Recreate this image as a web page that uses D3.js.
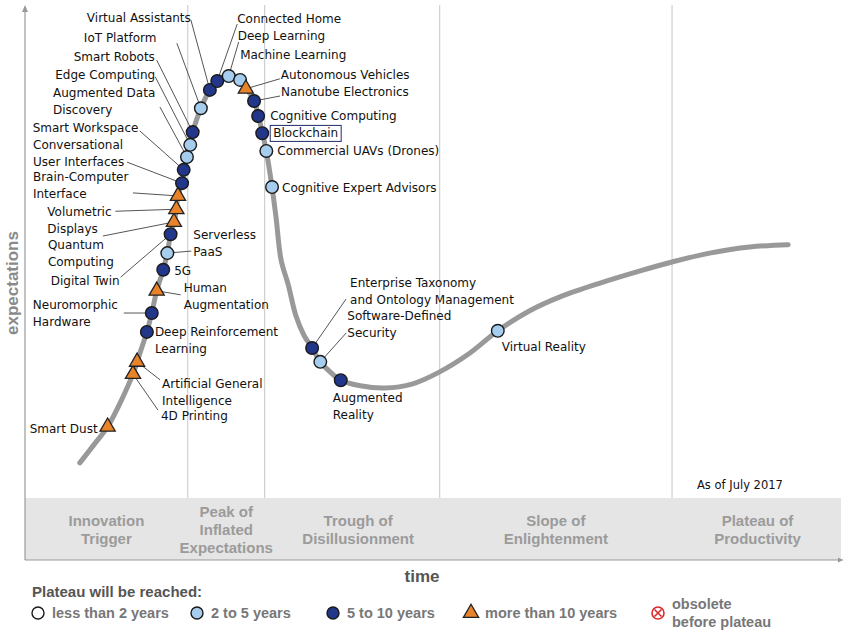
<!DOCTYPE html>
<html><head><meta charset="utf-8">
<script src="https://cdn.jsdelivr.net/npm/d3@7/dist/d3.min.js"></script>
<style>
body{margin:0;background:#fff;}
svg{display:block;}
</style></head>
<body><svg id="chart" width="844" height="633"></svg>
<script>
// ---------- DATA ----------
const curveX = [6.7,8.6,10.1,13.2,14.1,14.9,15.5,16.1,16.9,17.4,17.8,18.3,18.7,19.2,19.8,20.5,21.5,22.6,23.5,24.9,26.3,27.0,28.0,28.5,29.0,29.5,30.2,30.7,31.3,32.2,33.1,34.1,35.1,36.1,37.3,38.6,41.0,44.0,47.3,50.7,54.4,57.8,61.7,65.4,70.3,75.2,79.1,83.7,88.6,93.3];
const curveY = [17.5,21.1,24.0,33.5,37.5,41.1,44.5,48.5,52.3,55.3,58.7,61.3,65.6,68.1,72.8,77.1,81.4,84.7,86.5,87.4,86.7,85.0,82.9,80.2,77.1,73.7,67.2,61.6,54.1,49.5,44.1,40.5,38.2,35.7,33.9,32.4,31.4,31.0,31.7,33.9,37.3,41.3,44.9,47.4,49.9,52.1,53.7,55.3,56.4,56.8];

const techNames = [
 ["Smart Dust"],["4D Printing"],["Artificial General","Intelligence"],["Deep Reinforcement","Learning"],
 ["Neuromorphic","Hardware"],["Human","Augmentation"],["5G"],["Serverless","PaaS"],["Digital Twin"],
 ["Quantum","Computing"],["Volumetric","Displays"],["Brain-Computer","Interface"],["Conversational","User Interfaces"],
 ["Smart Workspace"],["Augmented Data","Discovery"],["Edge Computing"],["Smart Robots"],["IoT Platform"],
 ["Virtual Assistants"],["Connected Home"],["Deep Learning"],["Machine Learning"],["Autonomous Vehicles"],
 ["Nanotube Electronics"],["Cognitive Computing"],["Blockchain"],["Commercial UAVs (Drones)"],["Cognitive Expert Advisors"],
 ["Enterprise Taxonomy","and Ontology Management"],["Software-Defined","Security"],["Augmented","Reality"],["Virtual Reality"]
];
const techX = [10.1,13.2,13.7,14.9,15.5,16.1,16.9,17.4,17.8,18.2,18.5,18.7,19.2,19.4,19.8,20.2,20.5,21.5,22.6,23.5,24.9,26.3,27.0,28.0,28.5,29.0,29.5,30.2,35.1,36.1,38.6,57.8];
const techY = [24.0,33.5,35.7,41.1,44.5,48.5,52.3,55.3,58.7,60.9,63.2,65.6,67.9,70.3,72.6,74.8,77.1,81.4,84.7,86.3,87.2,86.5,84.9,82.7,80.0,76.9,73.7,67.2,38.2,35.7,32.4,41.3];
// plateau class: 1 = 2 to 5 years, 2 = 5 to 10 years, 3 = more than 10 years
const techClass = [3,3,3,2,2,3,2,1,2,3,3,3,2,2,1,1,2,1,2,2,1,1,3,2,2,2,1,1,2,1,2,1];

const phaseBounds = [19.9,29.3,50.7,79.1];
const phaseNames = [["Innovation","Trigger"],["Peak of","Inflated","Expectations"],["Trough of","Disillusionment"],["Slope of","Enlightenment"],["Plateau of","Productivity"]];
const legendLabels = ["less than 2 years","2 to 5 years","5 to 10 years","more than 10 years",["obsolete","before plateau"]];

// ---------- LAYOUT (label offsets from marker, px) ----------
// [dx, dy, anchor, leaderDx, leaderDy] ; leader null if none
const labelLayout = [
 [-10,2,"end",null,null],[28,42,"start",25,36],[25,22,"start",23,18],[8,0,"start",null,null],
 [-119,-8,"start",-28,0],[27,-3,"start",24,4],[11,1,"start",null,null],[26,-18,"start",24,-2],
 [-51,47,"end",-50,43],[-126,23,"start",-71,14],[-129,3,"start",-61,2],[-145,-19,"start",-45,-3],
 [-149,-38,"start",-55,-21],[-151,-42,"start",-44,-39],[-134,-64,"start",-27,-50],[-135,-70,"start",-35,-68],
 [-119,-75,"start",-36,-72],[-117,-70,"start",-24,-65],[-123,-72,"start",-19,-70],[20,-62,"start",20,-57],
 [9,-40,"start",10,-34],[0,-25,"start",null,null],[35,-14,"start",34,-10],[27,-9,"start",26,-5],
 [12,0,"start",null,null],[11,0,"start",null,null],[11,0,"start",null,null],[10,1,"start",null,null],
 [38,-65,"start",34,-49],[27,-46,"start",26,-29],[-8,18,"start",null,null],[4,16,"start",null,null]
];

const W = 844, H = 633;
const pLeft = 25, pRight = 843, pTop = 5, axisY = 560, bandTop = 498;
const x = d3.scaleLinear().domain([0,100]).range([pLeft,pRight]);
const y = d3.scaleLinear().domain([0,100]).range([axisY,pTop]);

const svg = d3.select("#chart");
const FONT = "'DejaVu Sans', Verdana, sans-serif";
const colors = {1:"#a6cdee",2:"#22378a",3:"#e8832a"};

// band
svg.append("rect").attr("x",pLeft).attr("y",bandTop).attr("width",pRight-pLeft-2).attr("height",axisY-bandTop).attr("fill","#e5e5e5");

// phase dividers
svg.selectAll("line.div").data(phaseBounds).join("line")
 .attr("x1",d=>x(d)).attr("x2",d=>x(d)).attr("y1",pTop).attr("y2",bandTop)
 .attr("stroke","#c6c6c6").attr("stroke-width",1);

// phase labels
const edges = [0,...phaseBounds,100];
const phaseShift = [0,0,6,0,0];
phaseNames.forEach((lines,i)=>{
  const cx = (x(edges[i])+x(edges[i+1]))/2 + phaseShift[i];
  const n = lines.length;
  const startY = n===3 ? 512 : 521;
  const t = svg.append("text").attr("text-anchor","middle").attr("font-family","'Liberation Sans', Arial, sans-serif")
    .attr("font-weight","bold").attr("font-size",15).attr("fill","#9b9b9b");
  lines.forEach((l,j)=>t.append("tspan").attr("x",cx).attr("y",startY+j*18).attr("dy","0.35em").text(l));
});

// axes
svg.append("line").attr("x1",pLeft).attr("x2",pLeft).attr("y1",axisY).attr("y2",pTop+2).attr("stroke","#999").attr("stroke-width",1.2);
svg.append("path").attr("d",`M${pLeft-3},${pTop+7}L${pLeft},${pTop}L${pLeft+3},${pTop+7}Z`).attr("fill","#999");
svg.append("line").attr("x1",pLeft).attr("x2",pRight).attr("y1",axisY).attr("y2",axisY).attr("stroke","#999").attr("stroke-width",1.2);
svg.append("path").attr("d",`M${pRight-5},${axisY-2.5}L${pRight},${axisY}L${pRight-5},${axisY+2.5}Z`).attr("fill","#999");

svg.append("text").attr("transform",`translate(12,283) rotate(-90)`).attr("text-anchor","middle").attr("dy","0.35em")
 .attr("font-family","'Liberation Sans', Arial, sans-serif").attr("font-weight","bold").attr("font-size",17).attr("fill","#8a8a8a").text("expectations");
svg.append("text").attr("x",422).attr("y",576).attr("dy","0.35em").attr("text-anchor","middle")
 .attr("font-family","'Liberation Sans', Arial, sans-serif").attr("font-weight","bold").attr("font-size",17).attr("fill","#555").text("time");

svg.append("text").attr("x",697).attr("y",485).attr("dy","0.35em").attr("font-family",FONT).attr("font-size",11.5).attr("fill","#111").text("As of July 2017");

// curve
const pts = curveX.map((d,i)=>[d,curveY[i]]);
svg.append("path").datum(pts)
 .attr("d",d3.line().x(d=>x(d[0])).y(d=>y(d[1])).curve(d3.curveCatmullRom.alpha(0.5)))
 .attr("fill","none").attr("stroke","#999").attr("stroke-width",5).attr("stroke-linecap","round");

// leaders
const items = techNames.map((n,i)=>({name:n,px:x(techX[i]),py:y(techY[i]),cls:techClass[i],lay:labelLayout[i]}));
svg.selectAll("line.leader").data(items.filter(d=>d.lay[3]!==null)).join("line")
 .attr("x1",d=>d.px+d.lay[3]).attr("y1",d=>d.py+d.lay[4]).attr("x2",d=>d.px).attr("y2",d=>d.py)
 .attr("stroke","#555").attr("stroke-width",1);

// markers
const tri = d3.symbol(d3.symbolTriangle,100);
items.forEach(d=>{
  if(d.cls===3){
    svg.append("path").attr("d",tri()).attr("transform",`translate(${d.px},${d.py})`)
      .attr("fill",colors[3]).attr("stroke","#222").attr("stroke-width",1.3);
  } else {
    svg.append("circle").attr("cx",d.px).attr("cy",d.py).attr("r",6.3)
      .attr("fill",colors[d.cls]).attr("stroke","#1a1a1a").attr("stroke-width",1.4);
  }
});

// labels
items.forEach(d=>{
  const lx = d.px+d.lay[0], ly = d.py+d.lay[1];
  const t = svg.append("text").attr("font-family",FONT).attr("font-size",12).attr("fill","#111").attr("text-anchor",d.lay[2]);
  d.name.forEach((l,j)=>t.append("tspan").attr("x",lx).attr("y",ly+j*16.5).attr("dy","0.35em").text(l));
  if(d.name[0]==="Blockchain"){
    const bb = t.node().getBBox();
    svg.append("rect").attr("x",bb.x-3).attr("y",bb.y-1).attr("width",bb.width+6).attr("height",bb.height+2)
      .attr("fill","none").attr("stroke","#1f2a6b").attr("stroke-width",1);
  }
});

// legend
svg.append("text").attr("x",32).attr("y",592).attr("dy","0.35em").attr("font-family","'Liberation Sans', Arial, sans-serif")
 .attr("font-weight","bold").attr("font-size",15).attr("fill","#555").text("Plateau will be reached:");
const legX = [38,197,333,471,658];
const legFill = ["#fff",colors[1],colors[2],colors[3],"#fff"];
legendLabels.forEach((lab,i)=>{
  const cx = legX[i], cy = 613;
  if(i===3){
    svg.append("path").attr("d",tri()).attr("transform",`translate(${cx},${cy})`).attr("fill",colors[3]).attr("stroke","#222").attr("stroke-width",1.3);
  } else if(i===4){
    svg.append("circle").attr("cx",cx).attr("cy",cy).attr("r",6).attr("fill","#fff").attr("stroke","#d92b2b").attr("stroke-width",1.6);
    svg.append("path").attr("d",`M${cx-3.5},${cy-3.5}L${cx+3.5},${cy+3.5}M${cx+3.5},${cy-3.5}L${cx-3.5},${cy+3.5}`).attr("stroke","#d92b2b").attr("stroke-width",1.6);
  } else {
    svg.append("circle").attr("cx",cx).attr("cy",cy).attr("r",6).attr("fill",legFill[i]).attr("stroke","#1a1a1a").attr("stroke-width",1.4);
  }
  const t = svg.append("text").attr("font-family","'Liberation Sans', Arial, sans-serif").attr("font-weight","bold")
    .attr("font-size",14.5).attr("fill","#777");
  const lines = Array.isArray(lab)?lab:[lab];
  const sy = lines.length>1 ? 604 : 613;
  lines.forEach((l,j)=>t.append("tspan").attr("x",cx+14).attr("y",sy+j*18).attr("dy","0.35em").text(l));
});
</script></body></html>
